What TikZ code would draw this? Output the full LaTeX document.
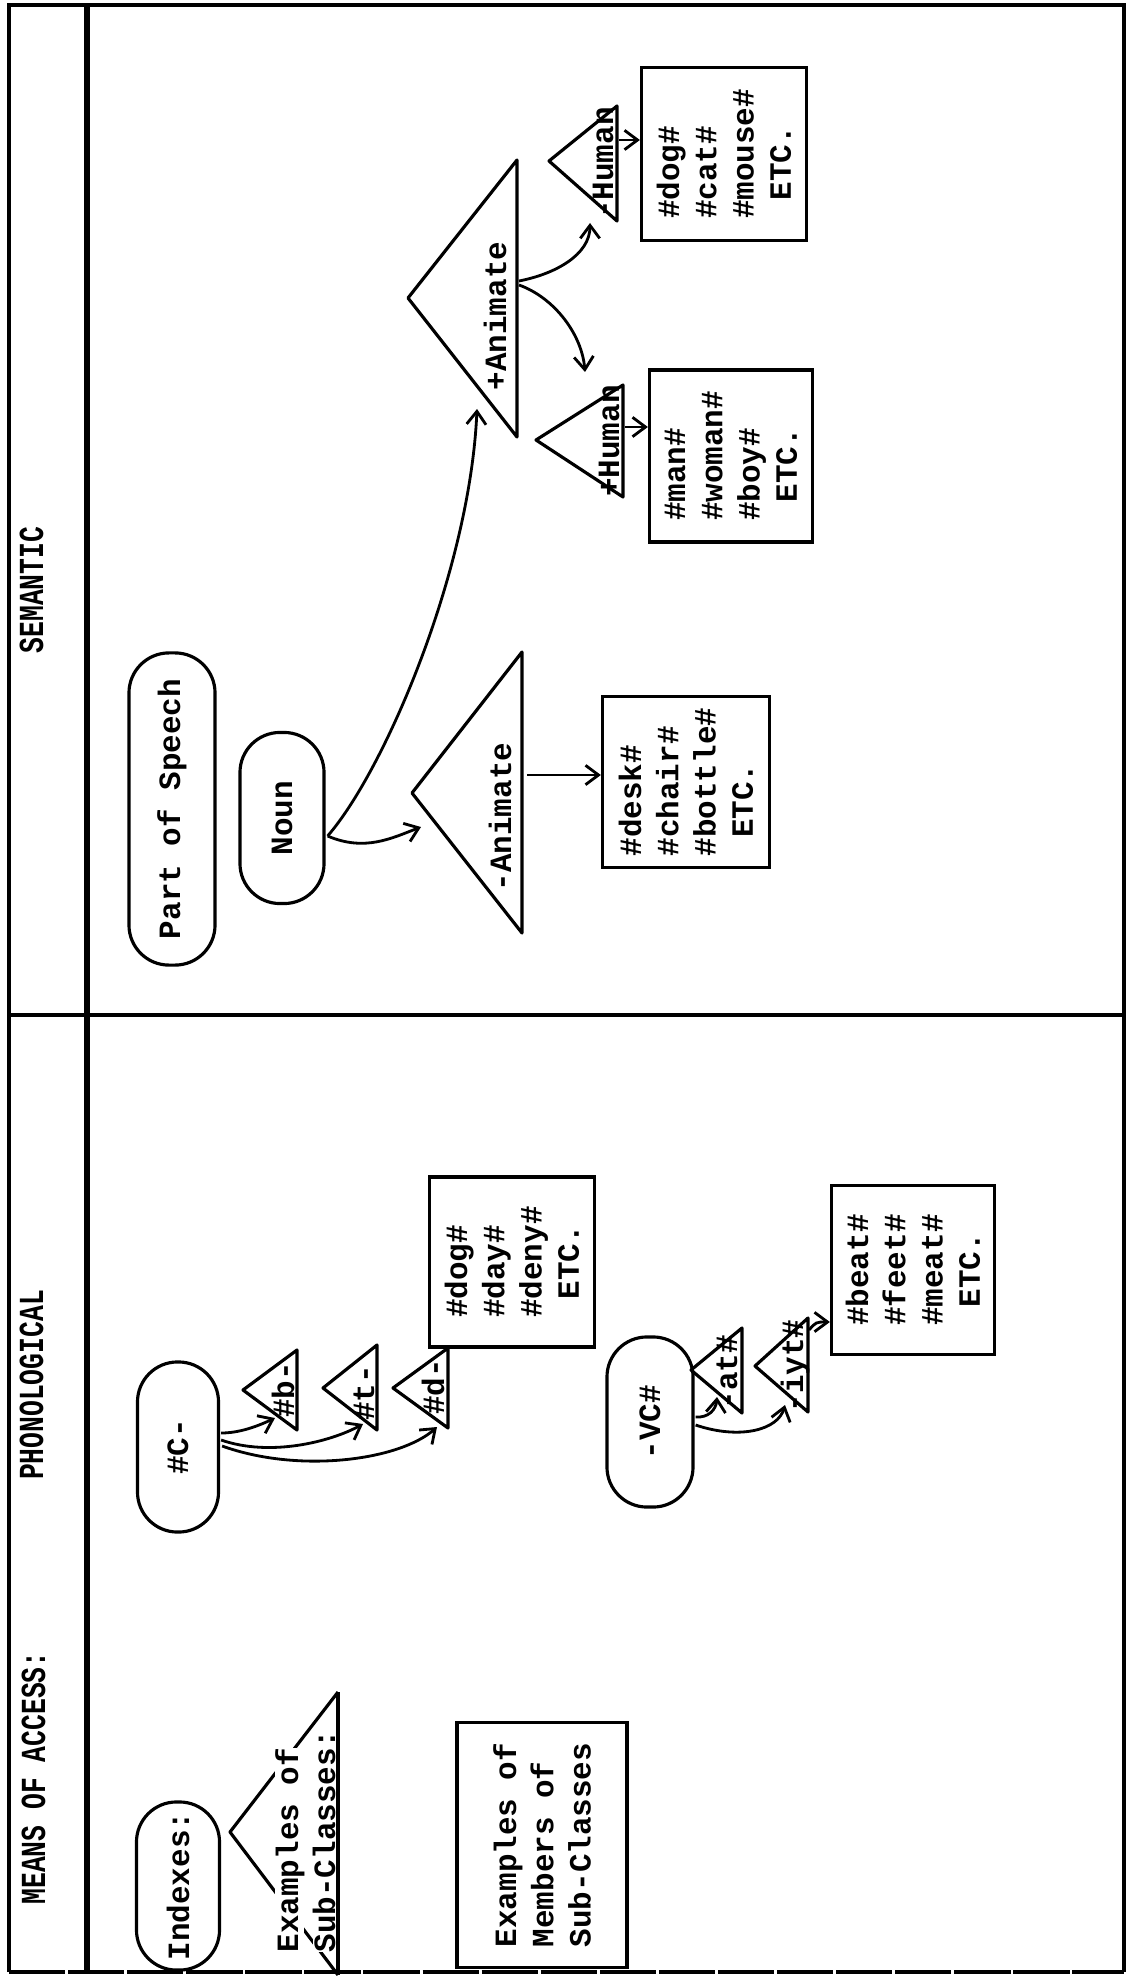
\documentclass[tikz,border=0pt]{standalone}
\usepackage{fontspec}
\setmonofont{Liberation Mono}
\usetikzlibrary{arrows.meta,calc}
\begin{document}
\begin{tikzpicture}[x=0.01cm, y=-0.01cm,
  every node/.style={font=\ttfamily\bfseries\fontsize{8.8}{10.6}\selectfont},
  lbl/.style={rotate=90, inner sep=0pt},
  stad/.style={draw, line width=0.9pt, rotate=90, rounded corners=0.4cm, inner sep=0pt},
  wbox/.style={draw, line width=0.9pt, rotate=90, align=left, inner sep=0pt},
  tri/.style={line width=0.9pt, line join=round},
  conn/.style={line width=0.8pt, -{Straight Barb[length=3.7pt,width=5.5pt]}},
  frame/.style={line width=1pt},
  hdr/.style={rotate=90, anchor=base, inner sep=0pt, font=\ttfamily\bfseries\fontsize{10}{12}\selectfont},
]
\useasboundingbox (0,0) rectangle (1136,1976);
% frame
\draw[frame] (9,1972) -- (9,5) -- (1124,5) -- (1124,1972);
\draw[line width=0.9pt, dash pattern=on 16pt off 0.8pt] (9,1972) -- (1124,1972);
\draw[line width=1.8pt] (87,5) -- (87,1972);
\draw[frame] (9,1015) -- (1124,1015);
% headers
\node[hdr] (h1) at (45,1778) {\scalebox{0.75}[1]{MEANS OF ACCESS:}};
\node[hdr] (h2) at (43,1385) {\scalebox{0.75}[1]{PHONOLOGICAL}};
\node[hdr] (h3) at (43,590) {\scalebox{0.75}[1]{SEMANTIC}};

% ---------------- legend ----------------
\node[stad, minimum width=1.68cm, minimum height=0.83cm] (idx) at (178,1886) {Indexes:};
\coordinate (ea) at (230,1832);
\coordinate (et) at (338,1692);
\coordinate (eb) at (338,1975);
\draw[tri] (et) -- (ea) -- (eb);
\node[lbl, anchor=base west, fill=white] (ex1) at (298,1953) {Examples of};
\node[lbl, anchor=base west, fill=white] (ex2) at (335,1953) {Sub-Classes:};
\draw[tri] (et) -- (eb);
\node[wbox, minimum width=2.45cm, minimum height=1.70cm] (emb) at (542,1845) {Examples of\\Members of\\Sub-Classes};

% ---------------- phonological ----------------
\node[stad, minimum width=1.70cm, minimum height=0.81cm] (c) at (178,1447) {\#C-};
% #b-
\coordinate (ba) at (243,1390); \coordinate (bt) at (297,1350); \coordinate (bb) at (297,1430);
\draw[tri] (bt) -- (ba) -- (bb) -- cycle;
\node[lbl, anchor=base] (tb) at (294,1390) {\#b-};
% #t-
\coordinate (ta) at (323,1388); \coordinate (tt) at (377,1345); \coordinate (tbb) at (377,1430);
\draw[tri] (tt) -- (ta) -- (tbb) -- cycle;
\node[lbl, anchor=base] (tlab) at (374,1393) {\#t-};
% #d-
\coordinate (da) at (393,1388); \coordinate (dt) at (448,1348); \coordinate (db) at (448,1428);
\draw[tri] (dt) -- (da) -- (db) -- cycle;
\node[lbl, anchor=base] (tdl) at (444,1387) {\#d-};
\node[wbox, minimum width=1.70cm, minimum height=1.65cm] (dbox) at (512,1262) {\#dog\#\\\#day\#\\\#deny\#\\\phantom{x}ETC.};
\coordinate (bT) at (275,1418);
\coordinate (tT) at (363,1424);
\coordinate (dT) at (437,1427);
\draw[conn] ($(c.south)+(1,-14)$) .. controls (240,1433) and (258,1426) .. (bT);
\draw[conn] ($(c.south)+(1,-7)$) .. controls (270,1457) and (330,1442) .. (tT);
\draw[conn] ($(c.south)+(2,-1)$) .. controls (300,1474) and (400,1460) .. (dT);

\node[stad, minimum width=1.70cm, minimum height=0.86cm] (vc) at (650,1422) {-VC\#};
% -at#
\coordinate (aa) at (691,1370); \coordinate (at) at (742,1328); \coordinate (ab) at (742,1413);
\draw[tri] (at) -- (aa) -- (ab) -- cycle;
\node[lbl, anchor=base] (atl) at (737,1372) {-at\#};
% -iyt#
\coordinate (ia) at (755,1366); \coordinate (it) at (808,1318); \coordinate (ib) at (808,1412);
\draw[tri] (it) -- (ia) -- (ib) -- cycle;
\node[lbl, anchor=base] (iyl) at (803,1366) {-iyt\#};
\node[wbox, minimum width=1.69cm, minimum height=1.63cm] (bbox) at (913,1270) {\#beat\#\\\#feet\#\\\#meat\#\\\phantom{x}ETC.};
\coordinate (atT) at (717,1397);
\coordinate (iyT) at (785,1405);
\coordinate (iyS) at (809,1330);
\draw[conn] ($(vc.south)+(1,-5)$) .. controls (708,1418) and (716,1410) .. (atT);
\draw[conn] ($(vc.south)+(1,3)$) .. controls (740,1440) and (778,1430) .. (iyT);
\draw[conn] (iyS) .. controls (816,1322) .. ($(bbox.north)+(0,52)$);

% ---------------- semantic ----------------
\node[stad, minimum width=3.12cm, minimum height=0.86cm] (pos) at (172,809) {Part of Speech};
\node[stad, minimum width=1.71cm, minimum height=0.84cm] (noun) at (282,818) {Noun};
% -Animate
\coordinate (maa) at (412,793); \coordinate (mat) at (522,652); \coordinate (mab) at (522,933);
\draw[tri] (mat) -- (maa) -- (mab) -- cycle;
\node[lbl, anchor=base] (mal) at (511,817) {-Animate};
% +Animate
\coordinate (paa) at (408,298); \coordinate (pat) at (517,160); \coordinate (pab) at (517,437);
\draw[tri] (pat) -- (paa) -- (pab) -- cycle;
\node[lbl, anchor=base] (pal) at (506,316) {+Animate};
\node[wbox, minimum width=1.71cm, minimum height=1.67cm] (desk) at (686,782) {\#desk\#\\\#chair\#\\\#bottle\#\\\phantom{x}ETC.};
% -Human
\coordinate (mha) at (549,161); \coordinate (mht) at (617,106); \coordinate (mhb) at (617,221);
\draw[tri] (mht) -- (mha) -- (mhb) -- cycle;
\node[lbl, anchor=base] (mhl) at (613,163) {-Human};
% +Human
\coordinate (pha) at (536,440); \coordinate (pht) at (623,385); \coordinate (phb) at (623,497);
\draw[tri] (pht) -- (pha) -- (phb) -- cycle;
\node[lbl, anchor=base] (phl) at (619,441) {+Human};
\node[wbox, minimum width=1.73cm, minimum height=1.65cm] (dc) at (724,154) {\#dog\#\\\#cat\#\\\#mouse\#\\\phantom{x}ETC.};
\node[wbox, minimum width=1.72cm, minimum height=1.63cm] (man) at (731,456) {\#man\#\\\#woman\#\\\#boy\#\\\phantom{x}ETC.};

\coordinate (maT) at (421,827);
\coordinate (paT) at (477,409);
\coordinate (maS) at (527,775);
\coordinate (paS1) at (519,281);
\coordinate (paS2) at (519,285);
\coordinate (mhT) at (590,223);
\coordinate (phT) at (585,372);
\coordinate (mhS) at (619,140);
\coordinate (phS) at (625,427);
\draw[conn] ($(noun.south)+(2,18)$) .. controls (365,852) and (392,838) .. (maT);
\draw[conn] ($(noun.south)+(2,18)$) .. controls (385,770) and (470,570) .. (paT);
\draw[conn] (maS) -- (maS -| desk.north);
\draw[conn] (paS1) .. controls (555,274) and (590,255) .. (mhT);
\draw[conn] (paS2) .. controls (555,298) and (582,335) .. (phT);
\draw[conn] (mhS) -- (mhS -| dc.north);
\draw[conn] (phS) -- (phS -| man.north);
\end{tikzpicture}
\end{document}
